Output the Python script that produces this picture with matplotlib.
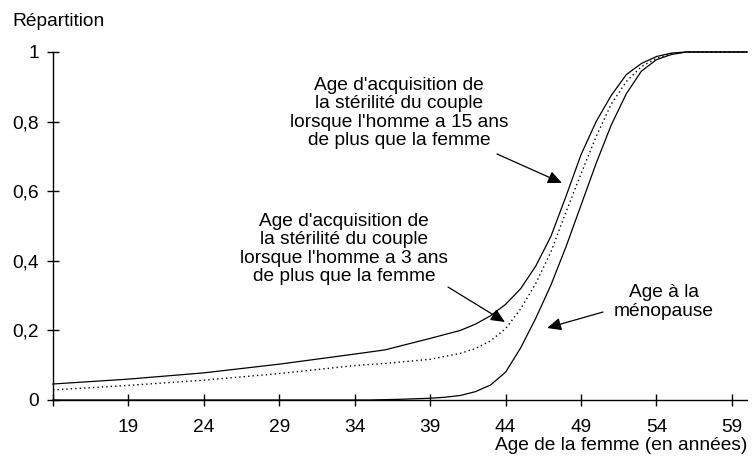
import matplotlib
matplotlib.use("Agg")
import matplotlib.pyplot as plt

plt.rcParams['font.family'] = ['Liberation Sans', 'DejaVu Sans']

# Curve: stérilité du couple, homme 15 ans de plus
ages_15 = [14, 19, 24, 29, 34, 36, 39, 41, 42, 43, 44, 45, 46, 47, 48, 49, 50, 51, 52, 53, 54, 55, 56, 60]
vals_15 = [0.046, 0.06, 0.078, 0.103, 0.132, 0.144, 0.177, 0.2, 0.218, 0.242, 0.275, 0.32, 0.385, 0.47,
           0.585, 0.705, 0.80, 0.875, 0.935, 0.967, 0.987, 0.997, 1.0, 1.0]

# Curve: stérilité du couple, homme 3 ans de plus
ages_3 = [14, 19, 24, 29, 34, 36, 39, 41, 42, 43, 44, 45, 46, 47, 48, 49, 50, 51, 52, 53, 54, 55, 56, 60]
vals_3 = [0.029, 0.042, 0.057, 0.076, 0.099, 0.105, 0.117, 0.134, 0.148, 0.17, 0.205, 0.262, 0.335, 0.425,
          0.54, 0.65, 0.757, 0.85, 0.915, 0.958, 0.982, 0.995, 1.0, 1.0]

# Curve: âge à la ménopause
ages_meno = [14, 35, 37, 39, 40, 41, 42, 43, 44, 45, 46, 47, 48, 49, 50, 51, 52, 53, 54, 55, 56, 60]
vals_meno = [0.0, 0.0, 0.002, 0.005, 0.008, 0.013, 0.024, 0.043, 0.08, 0.15, 0.235, 0.33, 0.44, 0.56,
             0.68, 0.79, 0.88, 0.945, 0.978, 0.993, 1.0, 1.0]

xticks = [14, 19, 24, 29, 34, 39, 44, 49, 54, 59]
xticklabels = ['', '19', '24', '29', '34', '39', '44', '49', '54', '59']
yticks = [0, 0.2, 0.4, 0.6, 0.8, 1.0]
yticklabels = ['0', '0,2', '0,4', '0,6', '0,8', '1']

FS = 13.8

fig = plt.figure(figsize=(7.53, 4.63), dpi=100)
ax = fig.add_axes([53/753, 1 - 400/463, (747 - 53)/753, (400 - 52)/463])

ax.plot(ages_15, vals_15, color='black', lw=0.9, clip_on=False)
ax.plot(ages_3, vals_3, color='black', lw=1.0, linestyle=(0, (1, 2.2)), clip_on=False)
ax.plot(ages_meno, vals_meno, color='black', lw=0.9, clip_on=False)

ax.set_xlim(14, 60)
ax.set_ylim(0, 1)
ax.set_xticks(xticks)
ax.set_xticklabels(xticklabels)
ax.set_yticks(yticks)
ax.set_yticklabels(yticklabels)
for s in ['top', 'right']:
    ax.spines[s].set_visible(False)
for s in ['left', 'bottom']:
    ax.spines[s].set_linewidth(1.0)
ax.tick_params(axis='both', direction='inout', length=8, width=1.0, labelsize=FS, colors='black')
ax.tick_params(axis='x', pad=10)
ax.tick_params(axis='y', pad=6)

fig.text(12/753, 1 - 21/463, 'Répartition', fontsize=FS, ha='left', va='center')
fig.text(747/753, 1 - 446/463, 'Age de la femme (en années)', fontsize=FS, ha='right', va='center')

def px(xp, yp):
    return (xp / 753, 1 - yp / 463)

arrowprops = dict(arrowstyle='-|>,head_length=0.85,head_width=0.38', color='black', lw=0.9,
                  shrinkA=0, shrinkB=0)

fig.text(399/753, 1 - 113/463,
         "Age d'acquisition de\nla stérilité du couple\nlorsque l'homme a 15 ans\nde plus que la femme",
         fontsize=FS, ha='center', va='center', linespacing=1.1)
ax.annotate('', xy=px(562, 183), xycoords='figure fraction',
            xytext=px(497, 154), textcoords='figure fraction', arrowprops=arrowprops)

fig.text(344/753, 1 - 249/463,
         "Age d'acquisition de\nla stérilité du couple\nlorsque l'homme a 3 ans\nde plus que la femme",
         fontsize=FS, ha='center', va='center', linespacing=1.1)
ax.annotate('', xy=px(505, 322), xycoords='figure fraction',
            xytext=px(448, 287), textcoords='figure fraction', arrowprops=arrowprops)

fig.text(664/753, 1 - 302/463, "Age à la\nménopause",
         fontsize=FS, ha='center', va='center', linespacing=1.1)
ax.annotate('', xy=px(547, 328), xycoords='figure fraction',
            xytext=px(603, 312), textcoords='figure fraction', arrowprops=arrowprops)

fig.savefig('out.png', dpi=100)
